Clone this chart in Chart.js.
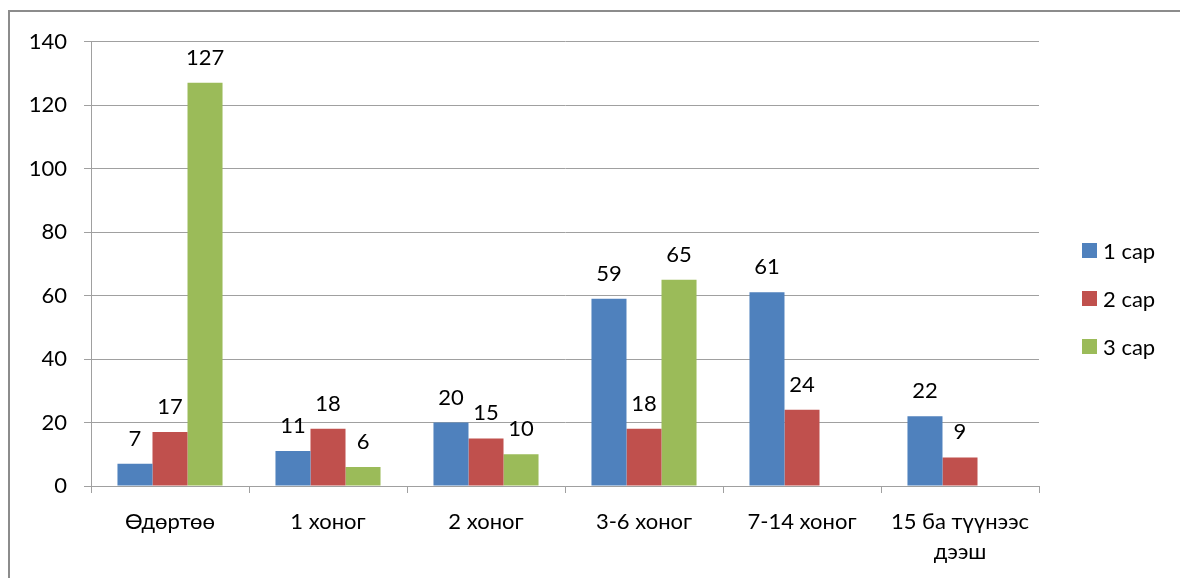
<!DOCTYPE html>
<html>
<head>
<meta charset="utf-8">
<script src="https://cdn.jsdelivr.net/npm/chart.js@4.4.1/dist/chart.umd.min.js"></script>
<style>
  html, body { margin:0; padding:0; width:1180px; height:578px; overflow:hidden; background:#fff; }
  #frame { position:absolute; left:8px; top:10px; width:1300px; height:700px; border:2px solid #8c8c8c; box-sizing:border-box; }
  #wrap { position:absolute; left:0; top:0; width:1180px; height:578px; }
</style>
</head>
<body>
<div id="frame"></div>
<div id="wrap"><canvas id="c" width="1180" height="578"></canvas></div>
<script>
const categories = ['Өдөртөө', '1 хоног', '2 хоног', '3-6 хоног', '7-14 хоног', ['15 ба түүнээс', 'дээш']];
const seriesNames = ['1 сар', '2 сар', '3 сар'];
const sar1 = [7, 11, 20, 59, 61, 22];
const sar2 = [17, 18, 15, 18, 24, 9];
const sar3 = [127, 6, 10, 65, null, null];
const yMin = 0, yMax = 140, yStep = 20;
const colors = ['#4F81BD', '#C0504D', '#9BBB59'];

const FONT = 'Lato, "Open Sans", sans-serif';
const FS = 22;

const dataLabels = {
  id: 'dataLabels',
  afterDatasetsDraw(chart) {
    const ctx = chart.ctx;
    ctx.save();
    ctx.font = FS + 'px ' + FONT;
    ctx.fillStyle = '#000';
    ctx.textAlign = 'center';
    ctx.textBaseline = 'alphabetic';
    chart.data.datasets.forEach((ds, i) => {
      const meta = chart.getDatasetMeta(i);
      meta.data.forEach((el, j) => {
        const v = ds.data[j];
        if (v === null || v === undefined) return;
        ctx.fillText(String(v), el.x, el.y - 18);
      });
    });
    ctx.restore();
  }
};

const sideLegend = {
  id: 'sideLegend',
  afterDraw(chart) {
    const ctx = chart.ctx;
    ctx.save();
    ctx.font = FS + 'px ' + FONT;
    ctx.textBaseline = 'middle';
    ctx.textAlign = 'left';
    chart.data.datasets.forEach((ds, i) => {
      const cy = 250.5 + i * 48;
      ctx.fillStyle = ds.backgroundColor;
      ctx.fillRect(1082, cy - 7.5, 15, 15);
      ctx.fillStyle = '#000';
      ctx.fillText(ds.label, 1103, cy + 1);
    });
    ctx.restore();
  }
};

new Chart(document.getElementById('c'), {
  type: 'bar',
  data: {
    labels: categories,
    datasets: [
      { label: seriesNames[0], data: sar1, backgroundColor: colors[0] },
      { label: seriesNames[1], data: sar2, backgroundColor: colors[1] },
      { label: seriesNames[2], data: sar3, backgroundColor: colors[2] }
    ]
  },
  options: {
    responsive: false,
    animation: false,
    devicePixelRatio: 1,
    layout: { padding: { left: 0, top: 41.5, right: 141, bottom: 0 } },
    datasets: { bar: { barPercentage: 1, categoryPercentage: 0.665 } },
    plugins: { legend: { display: false }, tooltip: { enabled: false } },
    scales: {
      x: {
        grid: { offset: true, drawOnChartArea: false, drawTicks: true, tickLength: 7, color: '#a0a0a0', lineWidth: 1 },
        border: { display: true, color: '#a0a0a0', width: 1 },
        ticks: { color: '#000', font: { family: FONT, size: FS, lineHeight: 1.36 }, padding: 14, maxRotation: 0, autoSkip: false },
        afterFit(scale) { scale.height = 578 - 486; }
      },
      y: {
        min: yMin, max: yMax,
        grid: { drawTicks: true, tickLength: 7, color: '#a0a0a0', lineWidth: 1 },
        border: { display: true, color: '#a0a0a0', width: 1 },
        ticks: { stepSize: yStep, color: '#000', font: { family: FONT, size: FS }, padding: 17 },
        afterFit(scale) { scale.width = 91; }
      }
    }
  },
  plugins: [dataLabels, sideLegend]
});
</script>
</body>
</html>
